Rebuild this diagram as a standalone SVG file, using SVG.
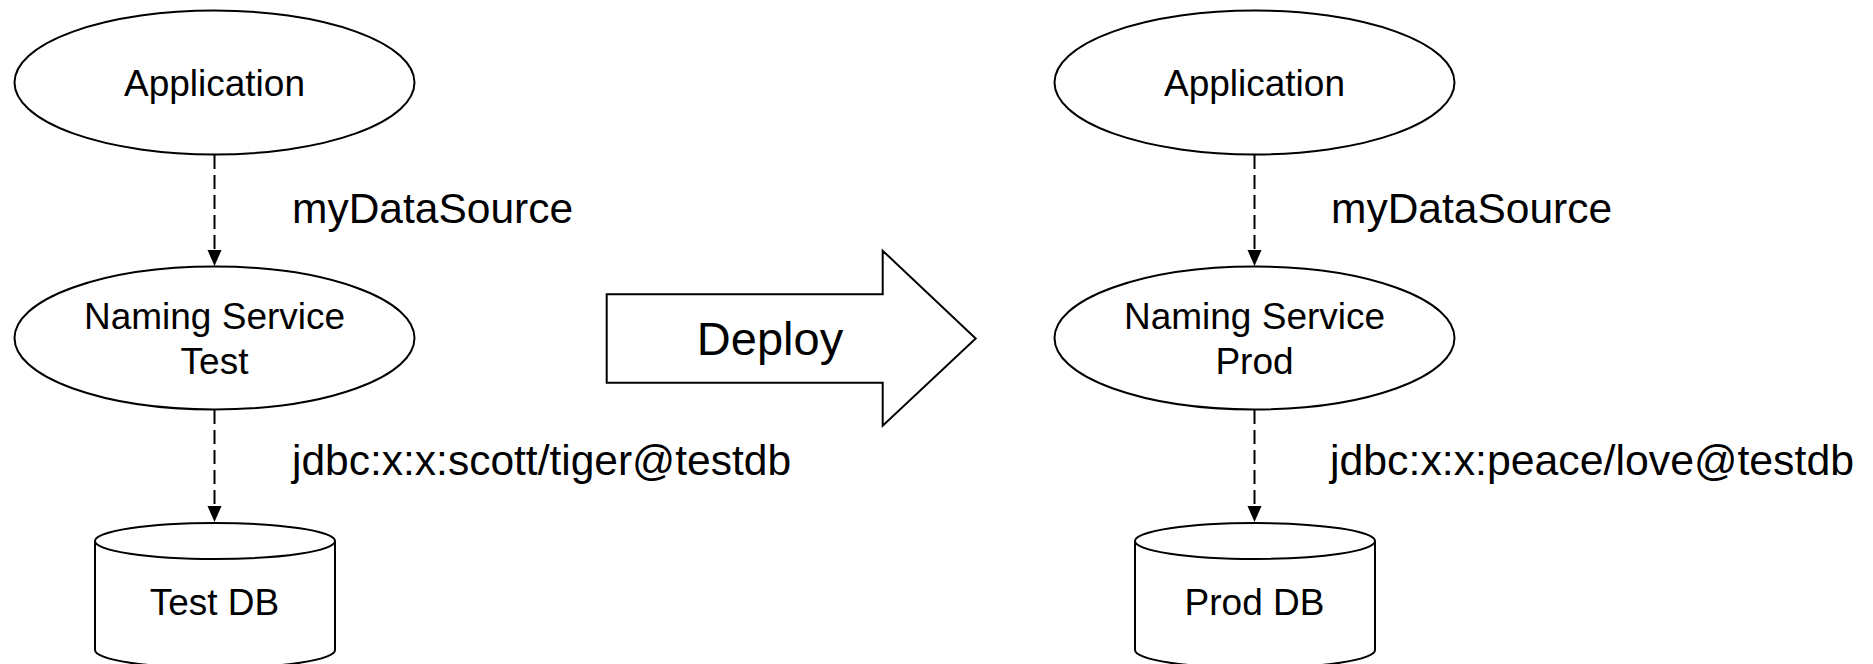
<svg xmlns="http://www.w3.org/2000/svg" width="1873" height="664" viewBox="0 0 1873 664">
<defs>
<style>
.shape{fill:#fff;stroke:#000;stroke-width:2}
.conn{fill:none;stroke:#000;stroke-width:2;stroke-dasharray:14 6}
text{font-family:"Liberation Sans",Arial,sans-serif;fill:#000}
.node{font-size:37px;text-anchor:middle}
.lbl{font-size:42.5px}
.big{font-size:47px;text-anchor:middle}
</style>
</defs>
<rect width="1873" height="664" fill="#fff"/>
<g id="connectors">
<line class="conn" x1="214.5" y1="155" x2="214.5" y2="249"/>
<path d="M207.5,250 L221.5,250 L214.5,266 Z" fill="#000"/>
<line class="conn" x1="214.5" y1="410" x2="214.5" y2="506"/>
<path d="M207.5,506 L221.5,506 L214.5,522 Z" fill="#000"/>
<line class="conn" x1="1254.5" y1="155" x2="1254.5" y2="249"/>
<path d="M1247.5,250 L1261.5,250 L1254.5,266 Z" fill="#000"/>
<line class="conn" x1="1254.5" y1="410" x2="1254.5" y2="506"/>
<path d="M1247.5,506 L1261.5,506 L1254.5,522 Z" fill="#000"/>
<text class="lbl" x="292" y="223">myDataSource</text>
<text class="lbl" x="292" y="475">jdbc:x:x:scott/tiger@testdb</text>
<text class="lbl" x="1331" y="223">myDataSource</text>
<text class="lbl" x="1330" y="475" textLength="524" lengthAdjust="spacingAndGlyphs">jdbc:x:x:peace/love@testdb</text>
</g>
<g id="app-test">
<ellipse class="shape" cx="214.5" cy="82.5" rx="200" ry="72"/>
<text class="node" x="214.5" y="96">Application</text>
</g>
<g id="naming-test">
<ellipse class="shape" cx="214.5" cy="338" rx="200" ry="71.5"/>
<text class="node" x="214.5" y="329">Naming Service</text>
<text class="node" x="214.5" y="374">Test</text>
</g>
<g id="db-test">
<path class="shape" d="M95,541 V650 A120,18 0 0,0 335,650 V541"/>
<ellipse class="shape" cx="215" cy="541" rx="120" ry="18"/>
<text class="node" x="214.5" y="615">Test DB</text>
</g>
<g id="deploy">
<polygon class="shape" points="606.7,294.3 882.7,294.3 882.7,250.7 975.7,338.5 882.7,425.7 882.7,382.7 606.7,382.7"/>
<text class="big" x="770" y="355">Deploy</text>
</g>
<g id="app-prod">
<ellipse class="shape" cx="1254.5" cy="82.5" rx="200" ry="72"/>
<text class="node" x="1254.5" y="96">Application</text>
</g>
<g id="naming-prod">
<ellipse class="shape" cx="1254.5" cy="338" rx="200" ry="71.5"/>
<text class="node" x="1254.5" y="329">Naming Service</text>
<text class="node" x="1254.5" y="374">Prod</text>
</g>
<g id="db-prod">
<path class="shape" d="M1135,541 V650 A120,18 0 0,0 1375,650 V541"/>
<ellipse class="shape" cx="1255" cy="541" rx="120" ry="18"/>
<text class="node" x="1254.5" y="615">Prod DB</text>
</g>
</svg>
